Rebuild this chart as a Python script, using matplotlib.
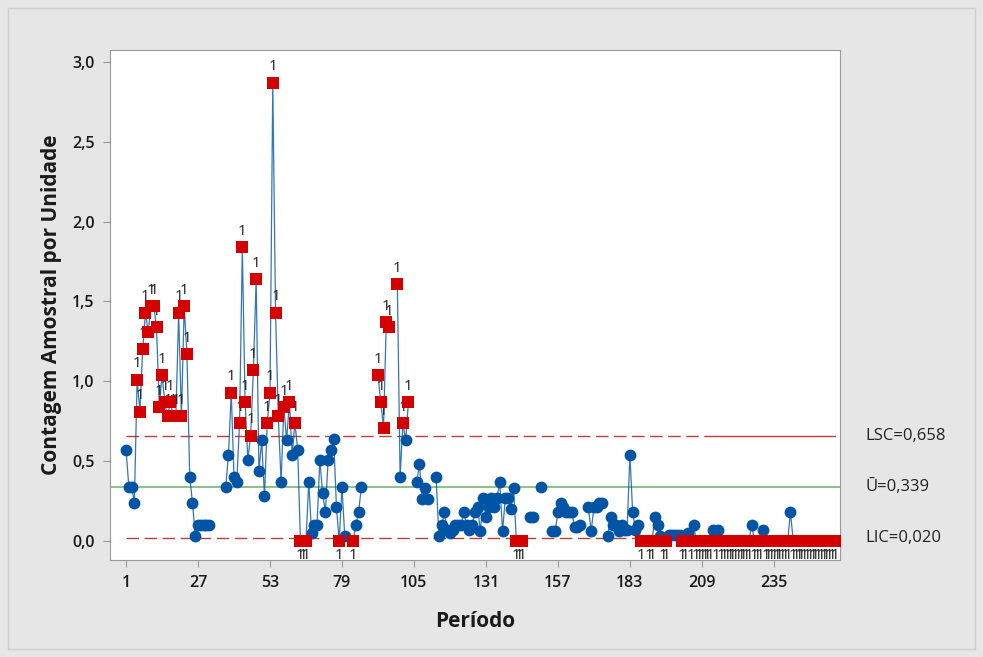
import numpy as np
import matplotlib.pyplot as plt
from matplotlib.ticker import FuncFormatter
from matplotlib.patches import Rectangle

plt.rcParams['font.family'] = ['Open Sans', 'DejaVu Sans']

nan = np.nan

# U chart values per period (nan = missing sample)
block_1 = [0.57, 0.34, 0.34, 0.24, 1.01, 0.81, 1.20, 1.43, 1.31, 1.47,
           1.47, 1.34, 0.84, 1.04, 0.87, 0.78, 0.87, 0.78, 0.78, 1.43,
           0.78, 1.47, 1.17, 0.40, 0.24, 0.03, 0.10, 0.10, 0.10, 0.10,
           0.10, nan, nan, nan, nan, nan, 0.34, 0.54, 0.93, 0.40,
           0.37, 0.74, 1.84, 0.87, 0.51, 0.66, 1.07, 1.64, 0.44, 0.63]
block_2 = [0.28, 0.74, 0.93, 2.87, 1.43, 0.78, 0.37, 0.84, 0.63, 0.87,
           0.54, 0.74, 0.57, 0.00, 0.00, 0.00, 0.37, 0.05, 0.10, 0.10,
           0.51, 0.30, 0.18, 0.51, 0.57, 0.64, 0.21, 0.00, 0.34, 0.03,
           nan, nan, 0.00, 0.10, 0.18, 0.34, nan, nan, nan, nan,
           nan, 1.04, 0.87, 0.71, 1.37, 1.34, nan, nan, 1.61, 0.40]
block_3 = [0.74, 0.63, 0.87, nan, nan, 0.37, 0.48, 0.26, 0.33, 0.26,
           nan, nan, 0.40, 0.03, 0.10, 0.18, 0.07, 0.05, 0.07, 0.10,
           0.10, 0.10, 0.18, 0.10, 0.07, 0.10, 0.18, 0.21, 0.06, 0.27,
           0.15, 0.21, 0.27, 0.21, 0.27, 0.37, 0.06, 0.27, 0.27, 0.20,
           0.33, 0.00, 0.00, 0.00, nan, nan, 0.15, 0.15, nan, nan]
block_4 = [0.34, nan, nan, nan, 0.06, 0.06, 0.18, 0.24, 0.21, 0.18,
           0.18, 0.18, 0.09, 0.09, 0.10, nan, nan, 0.21, 0.06, 0.21,
           0.21, 0.24, 0.24, nan, 0.03, 0.15, 0.10, 0.10, 0.06, 0.10,
           0.07, 0.07, 0.54, 0.18, 0.07, 0.10, 0.00, nan, nan, 0.00,
           0.00, 0.15, 0.10, 0.03, 0.00, 0.00, 0.04, 0.04, 0.04, 0.04]
block_5 = [0.04, 0.00, 0.00, 0.05, 0.00, 0.10, 0.00, 0.00, 0.00, 0.00,
           0.00, 0.00, 0.07, 0.00, 0.07, 0.00, 0.00, 0.00, 0.00, 0.00,
           0.00, 0.00, 0.00, 0.00, 0.00, 0.00, 0.10, 0.00, 0.00, 0.00,
           0.07, 0.00, 0.00, 0.00, 0.00, 0.00, 0.00, 0.00, 0.00, 0.00,
           0.18, 0.00, 0.00, 0.00, 0.00, 0.00, 0.00, 0.00, 0.00, 0.00,
           0.00, 0.00, 0.00, 0.00, 0.00, 0.00, 0.00]

lsc = 0.658
u_bar = 0.339
lic = 0.020

x_ticks = [1, 27, 53, 79, 105, 131, 157, 183, 209, 235]

u = np.array(block_1 + block_2 + block_3 + block_4 + block_5, dtype=float)
periods = np.arange(1, len(u) + 1)

blue = '#0054A6'
red = '#D40000'
limit_red = '#B8403F'
green = '#74B874'

fig = plt.figure(figsize=(9.83, 6.57), dpi=100, facecolor='#E6E6E6')
ax = fig.add_axes([110 / 983, 1 - 560 / 657, 730 / 983, 510 / 657])
ax.set_facecolor('white')

# control limits
ax.plot([1, 214], [lsc, lsc], color=limit_red, lw=1, ls=(0, (9, 4)), zorder=1)
ax.plot([214, periods[-1]], [lsc, lsc], color=limit_red, lw=1, zorder=1)
ax.plot([1, 214], [lic, lic], color=limit_red, lw=1, ls=(0, (9, 4)), zorder=1)
ax.plot([214, periods[-1]], [lic, lic], color=limit_red, lw=1, zorder=1)
ax.axhline(u_bar, color=green, lw=1.2, zorder=1)

# data
ax.plot(periods, u, color=blue, lw=0.9, alpha=0.8, zorder=2)
out = (u > lsc) | (u < lic)
ok = ~out & ~np.isnan(u)
ax.scatter(periods[ok], u[ok], s=72, marker='o', color=blue, zorder=3, linewidths=0)
ax.scatter(periods[out], u[out], s=64, marker='s', color=red, zorder=4, linewidths=0)

# test 1 flags
for p, v in zip(periods[out], u[out]):
    if v > lsc:
        ax.annotate('1', (p, v), xytext=(0, 6), textcoords='offset points',
                    ha='center', va='bottom', fontsize=11, color='#222222')
    else:
        ax.annotate('1', (p, v), xytext=(0, -5), textcoords='offset points',
                    ha='center', va='top', fontsize=11, color='#222222')

# limit labels on the right
for val, txt in [(lsc, 'LSC=0,658'), (u_bar, 'Ū=0,339'), (lic, 'LIC=0,020')]:
    ax.text(1.035, val, txt, transform=ax.get_yaxis_transform(), ha='left',
            va='center', fontsize=12, color='#222222', clip_on=False)

ax.set_xlim(-4.8, 258.9)
ax.set_ylim(-0.119, 3.075)
ax.set_xticks(x_ticks)
ax.set_yticks([0.0, 0.5, 1.0, 1.5, 2.0, 2.5, 3.0])
ax.yaxis.set_major_formatter(FuncFormatter(lambda v, _: f'{v:.1f}'.replace('.', ',')))
ax.tick_params(axis='both', direction='out', length=5, color='#9A9A9A',
               labelsize=11.5, labelcolor='#1A1A1A', pad=6)
for lbl in ax.get_xticklabels() + ax.get_yticklabels():
    lbl.set_fontweight('semibold')
for s in ax.spines.values():
    s.set_color('#9A9A9A')
    s.set_linewidth(0.8)

ax.set_xlabel('Período', fontsize=15, fontweight='bold', color='#1A1A1A', labelpad=14)
ax.set_ylabel('Contagem Amostral por Unidade', fontsize=15, fontweight='bold',
              color='#1A1A1A', labelpad=7)

fig.patches.append(Rectangle((8 / 983, 8 / 657), 967 / 983, 641 / 657,
                             transform=fig.transFigure, fill=False,
                             edgecolor='#CFCFCF', lw=1))

fig.savefig('out.png', dpi=100, facecolor=fig.get_facecolor())
